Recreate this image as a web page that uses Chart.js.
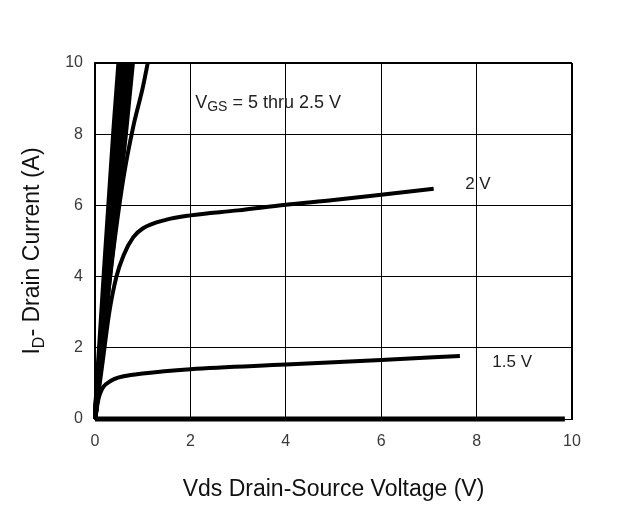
<!DOCTYPE html>
<html>
<head>
<meta charset="utf-8">
<script src="https://cdn.jsdelivr.net/npm/chart.js@4"></script>
<style>
  body { margin: 0; background: #fff; }
  #wrap { width: 636px; height: 508px; }
</style>
</head>
<body>
<div id="wrap"><canvas id="chart" width="636" height="508"></canvas></div>
<script>
// Output characteristics, Vds (V) vs Id (A).
const xTicks = [0, 2, 4, 6, 8, 10];
const yTicks = [0, 2, 4, 6, 8, 10];

const vds5 = [0, 0.2, 0.4, 0.53];
const id5 = [0, 4.2, 8.2, 10.5];
const vds45 = [0, 0.25, 0.46, 0.6];
const id45 = [0, 4.6, 8.2, 10.5];
const vds4 = [0, 0.28, 0.52, 0.67];
const id4 = [0, 4.6, 8.1, 10.5];
const vds35 = [0, 0.3, 0.57, 0.74];
const id35 = [0, 4.4, 8.0, 10.5];
const vds3 = [0, 0.32, 0.63, 0.82];
const id3 = [0, 4.2, 7.9, 10.5];

const vds25 = [0, 0.2, 0.4, 0.6, 0.8, 1.0, 1.15];
const id25 = [0, 2.6, 4.9, 6.8, 8.2, 9.3, 10.3];

const vds2 = [0, 0.15, 0.3, 0.45, 0.6, 0.8, 1, 1.5, 2, 3, 4, 5, 6, 7.1];
const id2 = [0, 1.5, 3.0, 4.0, 4.6, 5.1, 5.35, 5.6, 5.72, 5.86, 6.02, 6.15, 6.3, 6.47];

const vds15 = [0, 0.08, 0.15, 0.25, 0.4, 0.6, 1, 2, 4, 6, 7.65];
const id15 = [0, 0.6, 0.85, 1.0, 1.12, 1.2, 1.28, 1.4, 1.53, 1.66, 1.77];

const vds1 = [0, 9.85];
const id1 = [0, 0];

const curveLabels = ['2 V', '1.5 V'];

const FONT = '"Liberation Sans", Arial, sans-serif';

function pts(xs, ys) {
  return xs.map((x, i) => ({x: x, y: ys[i]}));
}

function curve(label, xs, ys, width) {
  return {
    label: label,
    data: pts(xs, ys),
    borderColor: '#000',
    borderWidth: width,
    pointRadius: 0,
    fill: false,
    cubicInterpolationMode: 'monotone',
    clip: {left: 2, right: 2, top: 0, bottom: 4},
  };
}

// Y title with subscript and the curve labels.
const textPlugin = {
  id: 'texts',
  afterDraw: (chart) => {
    const {ctx, scales: {x, y}} = chart;
    ctx.save();
    ctx.fillStyle = '#111';

    // I_D- Drain Current (A)
    const big = '23px ' + FONT;
    const small = '16px ' + FONT;
    ctx.font = big;
    const wI = ctx.measureText('I').width;
    const wRest = ctx.measureText('- Drain Current (A)').width;
    ctx.font = small;
    const wD = ctx.measureText('D').width;
    const total = wI + wD + wRest;
    ctx.translate(33, 251);
    ctx.rotate(-Math.PI / 2);
    ctx.textBaseline = 'middle';
    ctx.textAlign = 'left';
    let px = -total / 2;
    ctx.font = big;
    ctx.fillText('I', px, 0);
    px += wI;
    ctx.font = small;
    ctx.fillText('D', px, 7);
    px += wD;
    ctx.font = big;
    ctx.fillText('- Drain Current (A)', px, 0);
    ctx.setTransform(1, 0, 0, 1, 0, 0);

    // V_GS = 5 thru 2.5 V
    ctx.fillStyle = '#222';
    ctx.textBaseline = 'alphabetic';
    let tx = x.getPixelForValue(2.1);
    const ty = y.getPixelForValue(8.75);
    ctx.font = '18px ' + FONT;
    ctx.fillText('V', tx, ty);
    tx += ctx.measureText('V').width;
    ctx.font = '14px ' + FONT;
    ctx.fillText('GS', tx, ty + 3);
    tx += ctx.measureText('GS').width;
    ctx.font = '18px ' + FONT;
    ctx.fillText(' = 5 thru 2.5 V', tx, ty);

    // Curve labels
    ctx.font = '17px ' + FONT;
    ctx.textBaseline = 'middle';
    ctx.fillText(curveLabels[0], x.getPixelForValue(7.76), y.getPixelForValue(6.6));
    ctx.fillText(curveLabels[1], x.getPixelForValue(8.33), y.getPixelForValue(1.6));
    ctx.restore();
  }
};

const tickFont = {family: FONT, size: 16};

const config = {
  type: 'line',
  data: {
    datasets: [
      curve('5 V', vds5, id5, 5),
      curve('4.5 V', vds45, id45, 5),
      curve('4 V', vds4, id4, 5),
      curve('3.5 V', vds35, id35, 5),
      curve('3 V', vds3, id3, 5),
      curve('2.5 V', vds25, id25, 4),
      curve('2 V', vds2, id2, 4),
      curve('1.5 V', vds15, id15, 4),
      curve('1 V', vds1, id1, 5),
    ]
  },
  options: {
    responsive: false,
    animation: false,
    layout: {padding: {top: 63, right: 64, left: 0, bottom: 0}},
    plugins: {legend: {display: false}, tooltip: {enabled: false}},
    scales: {
      x: {
        type: 'linear',
        min: 0,
        max: 10,
        afterBuildTicks: (scale) => { scale.ticks = xTicks.map(v => ({value: v})); },
        afterFit: (scale) => { scale.height = 89; },
        ticks: {font: tickFont, color: '#3a3a3a', padding: 13},
        grid: {
          color: '#000',
          lineWidth: (c) => (c.tick && c.tick.value === 10 ? 2 : 1),
          drawTicks: false,
        },
        border: {color: '#000', width: 1},
        title: {
          display: true,
          text: 'Vds Drain-Source Voltage (V)',
          color: '#111',
          font: {family: FONT, size: 23},
          padding: {top: 0, bottom: 5},
        },
      },
      y: {
        min: 0,
        max: 10,
        afterBuildTicks: (scale) => { scale.ticks = yTicks.map(v => ({value: v})); },
        afterFit: (scale) => { scale.width = 95; },
        ticks: {font: tickFont, color: '#3a3a3a', padding: 12},
        grid: {
          color: '#000',
          lineWidth: (c) => (c.tick && c.tick.value === 10 ? 2 : 1),
          drawTicks: false,
        },
        border: {color: '#000', width: 2},
      }
    }
  },
  plugins: [textPlugin]
};

new Chart(document.getElementById('chart'), config);
</script>
</body>
</html>
